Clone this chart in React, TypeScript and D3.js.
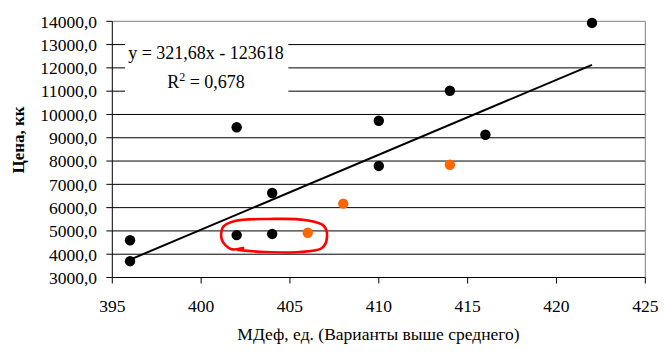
import React from "react";
import * as d3 from "d3";

const blackX = [396, 396, 402, 402, 404, 404, 410, 410, 414, 416, 422];
const blackY = [4600, 3700, 9450, 4820, 4870, 6630, 9730, 7790, 11020, 9130, 13930];
const orangeX = [406, 408, 414];
const orangeY = [4920, 6170, 7840];
const trendSlope = 321.68;
const trendIntercept = -123618;
const trendRange = [396, 422];
const xTicks = [395, 400, 405, 410, 415, 420, 425];
const yTicks = [3000, 4000, 5000, 6000, 7000, 8000, 9000, 10000, 11000, 12000, 13000, 14000];
const eqText = "y = 321,68x - 123618";
const r2Text = "0,678";
const xTitle = "МДеф, ед. (Варианты выше среднего)";
const yTitle = "Цена, кк";
// hand-drawn red annotation, in data units
const markX = [402.36, 401.68, 401.17, 401.23, 401.9, 403.87, 405.84, 406.91, 407.08, 406.8, 405.56, 403.59, 402.07];
const markY = [4267, 4224, 4610, 5168, 5426, 5512, 5469, 5211, 4696, 4267, 4095, 4095, 4181];

export default function App() {
  const W = 664, H = 356;
  const left = 112.3, right = 645.3, top = 21.3, bottom = 277.5;
  const x = d3.scaleLinear().domain([395, 425]).range([left, right]);
  const y = d3.scaleLinear().domain([3000, 14000]).range([bottom, top]);
  const font = "'Liberation Serif', 'Times New Roman', serif";
  const fmt = (v: number) => v.toFixed(1).replace(".", ",");
  const trendLine = d3.line<number>().x((d) => x(d)).y((d) => y(trendSlope * d + trendIntercept));
  const markLine = d3
    .line<number>()
    .x((i) => x(markX[i]))
    .y((i) => y(markY[i]))
    .curve(d3.curveCatmullRom);
  const boxX0 = 125, boxX1 = 288.3, boxY0 = 30, boxY1 = 100;
  return (
    <svg width={W} height={H} style={{ position: "absolute", left: 0, top: 0, background: "#fff" }}>
      <rect x={0} y={0} width={W} height={H} fill="#fff" />
      {yTicks.slice(1, -1).map((t) => (
        <line key={t} x1={left} x2={right} y1={y(t)} y2={y(t)} stroke="#000" strokeWidth={1} />
      ))}
      <line x1={left} x2={right} y1={top} y2={top} stroke="#808080" strokeWidth={1} />
      <line x1={right} x2={right} y1={top} y2={bottom} stroke="#808080" strokeWidth={1} />
      <line x1={left} x2={right} y1={bottom} y2={bottom} stroke="#000" strokeWidth={1} />
      <line x1={left} x2={left} y1={top} y2={bottom} stroke="#000" strokeWidth={1} />
      {yTicks.map((t) => (
        <g key={t}>
          <line x1={left - 6} x2={left} y1={y(t)} y2={y(t)} stroke="#000" />
          <text x={97} y={y(t)} dy="0.36em" textAnchor="end" fontSize={17.5} fill="#000" fontFamily={font}>
            {fmt(t)}
          </text>
        </g>
      ))}
      {xTicks.map((t) => (
        <g key={t}>
          <line x1={x(t)} x2={x(t)} y1={bottom} y2={bottom + 6} stroke="#000" />
          <text x={x(t)} y={311.5} textAnchor="middle" fontSize={17.5} fill="#000" fontFamily={font}>
            {t}
          </text>
        </g>
      ))}
      <path d={trendLine(trendRange) || ""} fill="none" stroke="#000" strokeWidth={2} />
      {blackX.map((v, i) => (
        <circle key={"b" + i} cx={x(v)} cy={y(blackY[i])} r={5.2} fill="#000" />
      ))}
      {orangeX.map((v, i) => (
        <circle key={"o" + i} cx={x(v)} cy={y(orangeY[i])} r={5.2} fill="#ff6600" />
      ))}
      <rect x={boxX0} y={boxY0} width={boxX1 - boxX0} height={boxY1 - boxY0} fill="#fff" />
      <text x={206} y={59} textAnchor="middle" fontSize={18} fill="#000" fontFamily={font}>
        {eqText}
      </text>
      <text x={206} y={88.3} textAnchor="middle" fontSize={18} fill="#000" fontFamily={font}>
        R<tspan dy={-7} fontSize={12}>2</tspan>
        <tspan dy={7}>{" = " + r2Text}</tspan>
      </text>
      <path
        d={markLine(d3.range(markX.length)) || ""}
        fill="none"
        stroke="#ff0000"
        strokeWidth={2.6}
        strokeLinecap="round"
        strokeLinejoin="round"
      />
      <text x={378.5} y={340} textAnchor="middle" fontSize={17.5} fill="#000" fontFamily={font}>
        {xTitle}
      </text>
      <text
        transform={`translate(24,140) rotate(-90)`}
        textAnchor="middle"
        fontSize={17}
        fontWeight="bold"
        fill="#000"
        fontFamily={font}
      >
        {yTitle}
      </text>
    </svg>
  );
}
